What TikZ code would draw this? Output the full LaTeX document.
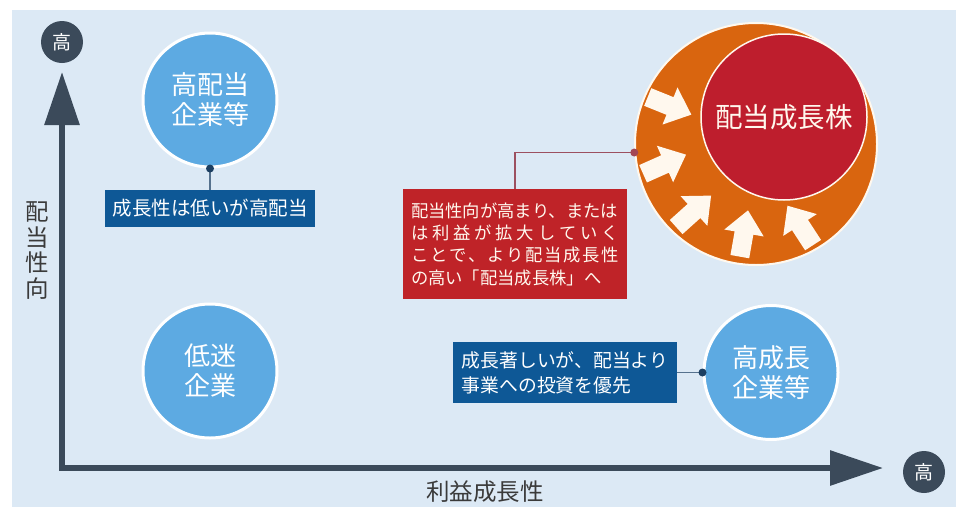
\documentclass[tikz,border=0pt]{standalone}
\usepackage{fontspec}
\setmainfont{Noto Sans CJK JP}
\usetikzlibrary{arrows.meta}
\definecolor{bgc}{HTML}{DCE9F5}
\definecolor{cblue}{HTML}{5DAAE2}
\definecolor{navy}{HTML}{3B4A5A}
\definecolor{dblue}{HTML}{0E5896}
\definecolor{dotblue}{HTML}{1C3F62}
\definecolor{rbox}{HTML}{BF2328}
\definecolor{orng}{HTML}{D9650F}
\definecolor{rinner}{HTML}{BE1E2D}
\definecolor{rline}{HTML}{9C5060}
\definecolor{cream}{HTML}{FFF8EE}
\definecolor{labc}{HTML}{3A3A3A}
\newcommand\jspread[1]{\hbox to 208pt{#1}}
\begin{document}
\begin{tikzpicture}[x=1pt,y=-1pt,
  bubble/.style={circle, fill=cblue, draw=white, line width=3pt, minimum size=134pt,
    inner sep=0pt, text=white, font=\fontsize{26}{30}\selectfont, align=center},
  hicirc/.style={circle, fill=navy, minimum size=42pt, inner sep=0pt, text=white,
    font=\fontsize{19}{19}\selectfont},
  axlab/.style={text=labc, inner sep=0pt, font=\fontsize{23.5}{25.5}\selectfont, align=center},
  bluebox/.style={rectangle, fill=dblue, text=white, inner sep=0pt},
  axisline/.style={draw=navy, line width=6pt, line join=miter,
    {Triangle[length=53pt,width=34pt]}-{Triangle[length=53pt,width=34pt]}},
  navyline/.style={draw=dotblue!70!bgc, line width=1.5pt},
  redline/.style={draw=rline, line width=1.5pt},
  arrowshape/.style={fill=cream}
]
\useasboundingbox (0,0) rectangle (956,509);
\fill[bgc] (12,10) rectangle (956,507);

% axes
\coordinate (ytip) at (62,72);
\coordinate (origin) at (62,468);
\coordinate (xtip) at (883,468);
\draw[axisline] (ytip) -- (origin) -- (xtip);
\node[hicirc] (yhi) at (62,42) {高};
\node[hicirc] (xhi) at (924,472) {高};
\node[axlab] (ylab) at (37,250.5) {配\\当\\性\\向};
\node[axlab] (xlab) at (485,492) {利益成長性};

% blue bubbles
\node[bubble] (hd) at (210,100) {高配当\\企業等};
\node[bubble] (lm) at (210,371) {低迷\\企業};
\node[bubble] (hg) at (771,372.5) {高成長\\企業等};

% boxes
\node[bluebox, minimum width=210pt, minimum height=37pt,
  font=\fontsize{19.5}{19.5}\selectfont] (b1) at (210,208.5) {成長性は低いが高配当};
\node[bluebox, minimum width=224pt, minimum height=61pt, align=left,
  font=\fontsize{18.8}{25}\selectfont] (b2) at (565,372.5) {成長著しいが、配当より\\事業への投資を優先};

\draw[navyline] (hd.south) -- (b1.north);
\fill[dotblue] (hd.south) circle (4pt);
\draw[navyline] (b2.east) -- (hg.west);
\fill[dotblue] (hg.west) circle (4pt);

% orange ring and inner circle
\node[circle, fill=orng, draw=cream, line width=2pt, minimum size=242pt, inner sep=0pt] (oc) at (756,144) {};
\node[circle, fill=rinner, draw=cream, line width=1.5pt, minimum size=166pt, inner sep=0pt,
  text=cream, font=\fontsize{27.5}{27.5}\selectfont] (ic) at (784,117) {配当成長株};
\foreach \px/\py/\a in {670/106/-22, 665/164/24, 694/211/42, 744/233/80, 800/225/123}
  \fill[arrowshape, shift={(\px,\py)}, rotate=\a]
    (-24pt,-9.5pt) -- (0pt,-9.5pt) -- (0pt,-20pt) -- (23pt,0pt) -- (0pt,20pt) -- (0pt,9.5pt) -- (-24pt,9.5pt) -- cycle;

% red box
\node[rectangle, fill=rbox, text=cream, inner sep=0pt, minimum width=224pt, minimum height=110pt,
  align=left, font=\fontsize{17.3}{22.3}\selectfont] (rb) at (515,244)
  {配当性向が高まり、または\\
   \jspread{は\hfil 利\hfil 益\hfil が\hfil 拡\hfil 大\hfil し\hfil て\hfil い\hfil く}\\
   \jspread{こ\hfil と\hfil で\hfil 、\hfil よ\hfil り\hfil 配\hfil 当\hfil 成\hfil 長\hfil 性}\\
   の高い「配当成長株」へ};
\draw[redline] (rb.north) |- (oc.184);
\fill[rline!80!rbox] (oc.184) circle (4pt);
\end{tikzpicture}
\end{document}
